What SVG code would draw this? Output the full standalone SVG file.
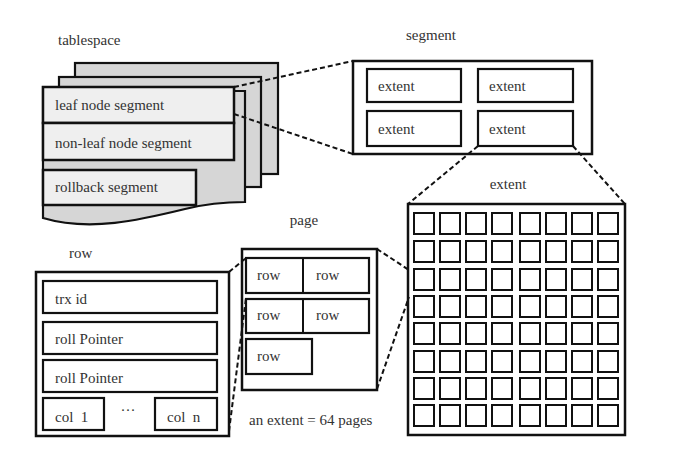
<svg xmlns="http://www.w3.org/2000/svg" width="693" height="465" viewBox="0 0 693 465">
<style>
text{font-family:"Liberation Serif","Times New Roman",serif;font-size:15px;fill:#333}
.lbl{font-size:15px}
.box{fill:#fff;stroke:#111;stroke-width:2.5}
.ib{fill:#fff;stroke:#111;stroke-width:2.2}
.sheet{fill:#d6d6d6;stroke:#111;stroke-width:2.2}
.seg{fill:#efefef;stroke:#111;stroke-width:2.5}
.cell{fill:#fff;stroke:#111;stroke-width:2}
.dash{fill:none;stroke:#111;stroke-width:2;stroke-dasharray:5,3}
</style>
<rect width="693" height="465" fill="#fff"/>
<g id="tablespace">
<text class="lbl" x="58" y="45">tablespace</text>
<rect class="sheet" x="75" y="63" width="203" height="111"/>
<rect class="sheet" x="59" y="77" width="202" height="110"/>
<path class="sheet" d="M43,87 L234,87 L234,91 L245,91 L245,202 C225,202 205,204 185,209 C140,220 90,232 43,218 Z"/>
<rect class="seg" x="43" y="87" width="191" height="36"/>
<text x="55" y="110">leaf node segment</text>
<rect class="seg" x="43" y="123" width="191" height="37"/>
<text x="55" y="148">non-leaf node segment</text>
<rect class="seg" x="43" y="170" width="153" height="35"/>
<text x="55" y="192">rollback segment</text>
</g>
<g id="segment">
<text class="lbl" x="431" y="40" text-anchor="middle">segment</text>
<rect class="box" x="353" y="61" width="239" height="93"/>
<rect class="ib" x="367" y="69" width="94" height="33"/>
<text x="378" y="91">extent</text>
<rect class="ib" x="478" y="69" width="95" height="33"/>
<text x="489" y="91">extent</text>
<rect class="ib" x="367" y="111" width="94" height="35"/>
<text x="378" y="134">extent</text>
<rect class="ib" x="478" y="111" width="95" height="35"/>
<text x="489" y="134">extent</text>
</g>
<g id="extent">
<text class="lbl" x="508" y="189" text-anchor="middle">extent</text>
<rect class="box" x="408" y="204" width="217" height="231"/>
<g id="grid">
<g transform="translate(414,213)">
<rect class="cell" x="0" y="0" width="20" height="21"/><rect class="cell" x="26" y="0" width="20" height="21"/><rect class="cell" x="52" y="0" width="20" height="21"/><rect class="cell" x="78" y="0" width="20" height="21"/><rect class="cell" x="106" y="0" width="20" height="21"/><rect class="cell" x="132" y="0" width="20" height="21"/><rect class="cell" x="158" y="0" width="20" height="21"/><rect class="cell" x="184" y="0" width="20" height="21"/>
</g>
<g transform="translate(414,241)">
<rect class="cell" x="0" y="0" width="20" height="21"/><rect class="cell" x="26" y="0" width="20" height="21"/><rect class="cell" x="52" y="0" width="20" height="21"/><rect class="cell" x="78" y="0" width="20" height="21"/><rect class="cell" x="106" y="0" width="20" height="21"/><rect class="cell" x="132" y="0" width="20" height="21"/><rect class="cell" x="158" y="0" width="20" height="21"/><rect class="cell" x="184" y="0" width="20" height="21"/>
</g>
<g transform="translate(414,269)">
<rect class="cell" x="0" y="0" width="20" height="21"/><rect class="cell" x="26" y="0" width="20" height="21"/><rect class="cell" x="52" y="0" width="20" height="21"/><rect class="cell" x="78" y="0" width="20" height="21"/><rect class="cell" x="106" y="0" width="20" height="21"/><rect class="cell" x="132" y="0" width="20" height="21"/><rect class="cell" x="158" y="0" width="20" height="21"/><rect class="cell" x="184" y="0" width="20" height="21"/>
</g>
<g transform="translate(414,296)">
<rect class="cell" x="0" y="0" width="20" height="21"/><rect class="cell" x="26" y="0" width="20" height="21"/><rect class="cell" x="52" y="0" width="20" height="21"/><rect class="cell" x="78" y="0" width="20" height="21"/><rect class="cell" x="106" y="0" width="20" height="21"/><rect class="cell" x="132" y="0" width="20" height="21"/><rect class="cell" x="158" y="0" width="20" height="21"/><rect class="cell" x="184" y="0" width="20" height="21"/>
</g>
<g transform="translate(414,323)">
<rect class="cell" x="0" y="0" width="20" height="21"/><rect class="cell" x="26" y="0" width="20" height="21"/><rect class="cell" x="52" y="0" width="20" height="21"/><rect class="cell" x="78" y="0" width="20" height="21"/><rect class="cell" x="106" y="0" width="20" height="21"/><rect class="cell" x="132" y="0" width="20" height="21"/><rect class="cell" x="158" y="0" width="20" height="21"/><rect class="cell" x="184" y="0" width="20" height="21"/>
</g>
<g transform="translate(414,351)">
<rect class="cell" x="0" y="0" width="20" height="21"/><rect class="cell" x="26" y="0" width="20" height="21"/><rect class="cell" x="52" y="0" width="20" height="21"/><rect class="cell" x="78" y="0" width="20" height="21"/><rect class="cell" x="106" y="0" width="20" height="21"/><rect class="cell" x="132" y="0" width="20" height="21"/><rect class="cell" x="158" y="0" width="20" height="21"/><rect class="cell" x="184" y="0" width="20" height="21"/>
</g>
<g transform="translate(414,378)">
<rect class="cell" x="0" y="0" width="20" height="21"/><rect class="cell" x="26" y="0" width="20" height="21"/><rect class="cell" x="52" y="0" width="20" height="21"/><rect class="cell" x="78" y="0" width="20" height="21"/><rect class="cell" x="106" y="0" width="20" height="21"/><rect class="cell" x="132" y="0" width="20" height="21"/><rect class="cell" x="158" y="0" width="20" height="21"/><rect class="cell" x="184" y="0" width="20" height="21"/>
</g>
<g transform="translate(414,405)">
<rect class="cell" x="0" y="0" width="20" height="21"/><rect class="cell" x="26" y="0" width="20" height="21"/><rect class="cell" x="52" y="0" width="20" height="21"/><rect class="cell" x="78" y="0" width="20" height="21"/><rect class="cell" x="106" y="0" width="20" height="21"/><rect class="cell" x="132" y="0" width="20" height="21"/><rect class="cell" x="158" y="0" width="20" height="21"/><rect class="cell" x="184" y="0" width="20" height="21"/>
</g>
</g>
</g>
<g id="page">
<text class="lbl" x="304" y="225" text-anchor="middle">page</text>
<rect class="box" x="242" y="249" width="135" height="141"/>
<rect class="ib" x="246" y="258" width="123" height="35"/>
<line x1="303" y1="258" x2="303" y2="293" stroke="#111" stroke-width="2"/>
<text x="257" y="280">row</text>
<text x="316" y="280">row</text>
<rect class="ib" x="246" y="299" width="123" height="34"/>
<line x1="303" y1="299" x2="303" y2="333" stroke="#111" stroke-width="2"/>
<text x="257" y="320">row</text>
<text x="316" y="320">row</text>
<rect class="ib" x="246" y="339" width="66" height="35"/>
<text x="257" y="361">row</text>
<text x="249" y="425">an extent = 64 pages</text>
</g>
<g id="row">
<text class="lbl" x="69" y="258">row</text>
<rect class="box" x="36" y="272" width="193" height="164"/>
<rect class="ib" x="43" y="281" width="174" height="32"/>
<text x="55" y="304">trx id</text>
<rect class="ib" x="43" y="322" width="174" height="32"/>
<text x="55" y="344">roll Pointer</text>
<rect class="ib" x="43" y="360" width="174" height="32"/>
<text x="55" y="383">roll Pointer</text>
<rect class="ib" x="43" y="398" width="61" height="32"/>
<text x="55" y="422" xml:space="preserve">col  1</text>
<text x="128" y="415" text-anchor="middle">···</text>
<rect class="ib" x="155" y="398" width="62" height="32"/>
<text x="167" y="422" xml:space="preserve">col  n</text>
</g>
<g id="connectors">
<line class="dash" x1="234" y1="87" x2="353" y2="61"/>
<line class="dash" x1="234" y1="114" x2="353" y2="154"/>
<line class="dash" x1="478" y1="146" x2="408" y2="204"/>
<line class="dash" x1="573" y1="146" x2="625" y2="204"/>
<line class="dash" x1="377" y1="249" x2="409" y2="270"/>
<line class="dash" x1="377" y1="389" x2="409" y2="297"/>
<line class="dash" x1="229" y1="272" x2="246" y2="258"/>
<line class="dash" x1="229" y1="431" x2="246" y2="298"/>
</g>
</svg>
